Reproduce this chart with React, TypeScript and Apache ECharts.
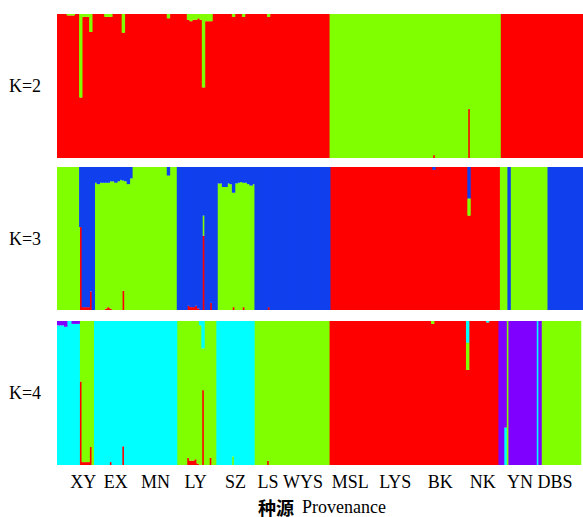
import React, { useEffect, useRef } from "react";
import * as echarts from "echarts";

// Run-length coded membership (count of consecutive individuals, then ancestry fractions, bottom to top)
// K=2 clusters: red, green
const K2_RUNS: number[][] = [
  [4, 1, 0], [3, 0.99, 0.01], [2, 1, 0], [1, 0.42, 0.58], [3, 0.98, 0.02], [1, 0.875, 0.125],
  [5, 1, 0], [3, 0.98, 0.02], [4, 1, 0], [1, 0.87, 0.13], [17, 1, 0], [1, 0.97, 0.03], [7, 1, 0],
  [1, 0.96, 0.04], [1, 0.95, 0.05], [1, 0.96, 0.04], [1, 0.96, 0.04], [1, 0.97, 0.03], [1, 0.96, 0.04],
  [1, 0.49, 0.51], [3, 0.95, 0.05], [8, 1, 0], [1, 0.98, 0.02], [3, 1, 0], [1, 0.98, 0.02], [9, 1, 0],
  [1, 0.98, 0.02], [24, 1, 0], [41, 0, 1], [1, 0.02, 0.98], [13, 0, 1], [1, 0.34, 0.66], [12, 0, 1],
  [33, 1, 0],
];
// K=3 clusters: red, green, blue
const K3_RUNS: number[][] = [
  [9, 0, 1, 0], [1, 0.58, 0, 0.42], [3, 0.02, 0, 0.98], [1, 0.13, 0, 0.87], [1, 0, 0, 1],
  [1, 0, 0.89, 0.11], [1, 0, 0.88, 0.12], [1, 0, 0.89, 0.11], [1, 0, 0.89, 0.11], [1, 0.01, 0.88, 0.11],
  [1, 0.02, 0.87, 0.11], [1, 0.01, 0.89, 0.1], [1, 0, 0.9, 0.1], [1, 0, 0.89, 0.11], [1, 0, 0.9, 0.1],
  [1, 0, 0.91, 0.09], [1, 0.135, 0.77, 0.095], [1, 0, 0.9, 0.1], [1, 0, 0.88, 0.12], [1, 0, 0.92, 0.08],
  [14, 0, 1, 0], [1, 0, 0.94, 0.06], [3, 0, 1, 0], [4, 0, 0, 1],
  [1, 0.03, 0, 0.97], [1, 0.02, 0, 0.98], [1, 0.02, 0, 0.98], [1, 0.03, 0, 0.97], [1, 0.01, 0, 0.99],
  [1, 0, 0, 1], [1, 0.52, 0.14, 0.34], [2, 0, 0, 1], [1, 0.05, 0, 0.95], [2, 0, 0, 1],
  [1, 0, 0.885, 0.115], [1, 0, 0.885, 0.115], [1, 0, 0.86, 0.14], [1, 0, 0.86, 0.14], [1, 0, 0.885, 0.115],
  [1, 0, 0.88, 0.12], [1, 0.02, 0.8, 0.18], [1, 0, 0.885, 0.115], [1, 0, 0.89, 0.11], [1, 0, 0.895, 0.105],
  [1, 0.02, 0.87, 0.11], [1, 0, 0.89, 0.11], [1, 0, 0.88, 0.12], [1, 0, 0.87, 0.13], [1, 0, 0.88, 0.12],
  [5, 0, 0, 1], [1, 0.02, 0, 0.98], [24, 0, 0, 1], [41, 1, 0, 0], [1, 0.98, 0, 0.02], [13, 1, 0, 0],
  [1, 0.66, 0.12, 0.22], [12, 1, 0, 0], [3, 0, 1, 0], [1, 0, 0, 1], [15, 0, 1, 0], [14, 0, 0, 1],
];
// K=4 clusters: red, green, cyan, purple
const K4_RUNS: number[][] = [
  [3, 0, 0, 0.97, 0.03], [1, 0, 0, 0.96, 0.04], [2, 0, 0, 1, 0], [3, 0, 0, 0.98, 0.02],
  [1, 0.58, 0.42, 0, 0], [3, 0.02, 0.98, 0, 0], [1, 0.125, 0.875, 0, 0], [1, 0, 1, 0, 0],
  [6, 0, 0, 1, 0], [1, 0.02, 0, 0.98, 0], [4, 0, 0, 1, 0], [1, 0.13, 0, 0.87, 0], [21, 0, 0, 1, 0],
  [4, 0, 1, 0, 0], [1, 0.05, 0.95, 0, 0], [1, 0.03, 0.97, 0, 0], [1, 0.03, 0.97, 0, 0], [1, 0.04, 0.96, 0, 0],
  [1, 0.01, 0.99, 0, 0], [1, 0, 0.97, 0.03, 0], [1, 0.52, 0.29, 0.19, 0], [2, 0, 1, 0, 0],
  [1, 0.05, 0.95, 0, 0], [2, 0, 1, 0, 0], [6, 0, 0, 1, 0], [1, 0, 0.06, 0.94, 0], [8, 0, 0, 1, 0],
  [5, 0, 1, 0, 0], [1, 0.03, 0.97, 0, 0], [24, 0, 1, 0, 0], [41, 1, 0, 0, 0], [1, 0.98, 0.02, 0, 0],
  [13, 1, 0, 0, 0], [1, 0.66, 0.19, 0.15, 0], [7, 1, 0, 0, 0], [1, 0.99, 0, 0.01, 0], [4, 1, 0, 0, 0],
  [2, 0, 0, 0, 1], [1, 0, 0, 0.26, 0.74], [1, 0, 1, 0, 0], [11, 0, 0, 0, 1], [1, 0, 0, 1, 0],
  [1, 0, 0, 0, 1], [16, 0, 1, 0, 0],
];

const PANEL_NAMES = ["K=2", "K=3", "K=4"];
const POP_LABELS = ["XY", "EX", "MN", "LY", "SZ", "LS", "WYS", "MSL", "LYS", "BK", "NK", "YN", "DBS"];
// individual index at which each provenance label sits
const POP_LABEL_AT = [10, 23, 39, 55, 71, 84, 98, 117, 135, 153, 170, 185, 199];
const AXIS_TITLE_CN = "种源";
const AXIS_TITLE_EN = "Provenance";

const RED = "#ff0000";
const GREEN = "#80ff00";
const BLUE = "#1040ee";
const CYAN = "#00ffff";
const PURPLE = "#8000ff";

const SERIF = "Liberation Serif";

function decode(runs: number[][]): number[][] {
  const out: number[][] = [];
  runs.forEach((r) => {
    for (let i = 0; i < r[0]; i++) out.push(r.slice(1));
  });
  return out;
}

export default function App() {
  const ref = useRef<HTMLDivElement>(null);
  useEffect(() => {
    if (!ref.current) return;
    const chart = echarts.init(ref.current, null, { renderer: "svg" });
    const panels = [
      { rows: decode(K2_RUNS), colors: [RED, GREEN] },
      { rows: decode(K3_RUNS), colors: [RED, GREEN, BLUE] },
      { rows: decode(K4_RUNS), colors: [RED, GREEN, CYAN, PURPLE] },
    ];
    const n = panels[0].rows.length;
    const cats = Array.from({ length: n }, (_, i) => String(i + 1));
    const labelMap: Record<number, string> = {};
    POP_LABEL_AT.forEach((idx, i) => (labelMap[idx] = POP_LABELS[i]));
    const grids = [
      { left: 57, width: 526, top: 14, height: 144 },
      { left: 57, width: 526, top: 167, height: 143 },
      { left: 57, width: 526, top: 321, height: 144 },
    ];
    const colW = 526 / n;
    const xAxes = panels.map((_, p) => ({
      type: "category",
      gridIndex: p,
      data: cats,
      boundaryGap: true,
      axisLine: { show: false },
      axisTick: { show: false },
      axisLabel:
        p === 2
          ? {
              show: true,
              interval: 0,
              margin: 8,
              formatter: (_v: string, i: number) => (labelMap[i] ? "{s|" + labelMap[i] + "}" : ""),
              rich: { s: { fontSize: 18, fontFamily: SERIF, color: "#000" } },
            }
          : { show: false },
    }));
    const yAxes = panels.map((_, p) => ({
      type: "value",
      gridIndex: p,
      min: 0,
      max: 1,
      show: false,
    }));
    const series: any[] = [];
    panels.forEach((panel, p) => {
      panel.colors.forEach((c, k) => {
        series.push({
          type: "bar",
          xAxisIndex: p,
          yAxisIndex: p,
          stack: "K" + p,
          barWidth: colW + 0.9,
          data: panel.rows.map((r) => r[k]),
          itemStyle: { color: c },
          emphasis: { disabled: true },
        });
      });
    });
    const graphic: any[] = PANEL_NAMES.map((t, p) => ({
      type: "text",
      x: 25,
      y: grids[p].top + grids[p].height / 2,
      style: {
        text: "{s|" + t + "}",
        textAlign: "center",
        textVerticalAlign: "middle",
        rich: { s: { fontSize: 18, fontFamily: SERIF, fill: "#000" } },
      },
    }));
    graphic.push({
      type: "text",
      x: 322,
      y: 507,
      style: {
        text: "{cn|" + AXIS_TITLE_CN + "}{sp| }{en|" + AXIS_TITLE_EN + "}",
        textAlign: "center",
        textVerticalAlign: "middle",
        rich: {
          cn: { fontSize: 18, fontFamily: "Noto Sans CJK SC", fontWeight: "bold", fill: "#000", height: 24 },
          sp: { fontSize: 18, fontFamily: SERIF, width: 8, height: 24 },
          en: { fontSize: 18, fontFamily: SERIF, fill: "#000", height: 24 },
        },
      },
    });
    chart.setOption({
      animation: false,
      backgroundColor: "#fff",
      grid: grids,
      xAxis: xAxes,
      yAxis: yAxes,
      series,
      graphic,
    });
    return () => chart.dispose();
  }, []);
  return (
    <div
      ref={ref}
      style={{ position: "fixed", left: 0, top: 0, width: 583, height: 517 }}
    />
  );
}
